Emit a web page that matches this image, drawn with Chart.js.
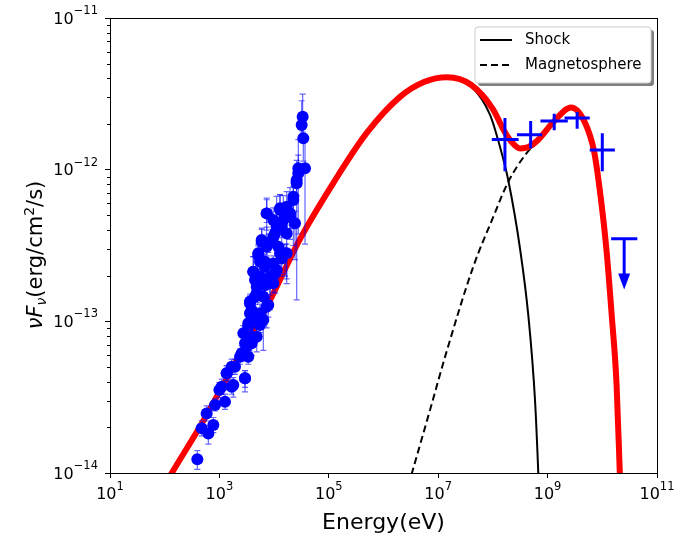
<!DOCTYPE html>
<html>
<head>
<meta charset="utf-8">
<script src="https://cdn.jsdelivr.net/npm/chart.js@4.4.1/dist/chart.umd.min.js"></script>
<style>
  html, body { margin: 0; padding: 0; background: #fff; }
  #sed { display: block; }
</style>
</head>
<body>
<canvas id="sed" width="677" height="536"></canvas>
<script>
// X-ray points: energy (eV), nuFnu (erg/cm2/s), error bars in dex
const xrayEnergy = [395, 474, 628, 775, 585, 832, 998, 1265, 1357, 1797, 1675, 2383, 2938, 3148, 3622, 2741, 3378,
    4475, 5521, 3890, 6350, 3630, 4800, 5930, 7310, 4475, 4170, 5521, 6820, 8410, 10380, 5150, 5930, 7310, 9680,
    12820, 11140, 14760, 7310, 12820, 16980, 19540, 22490, 24100, 15810, 25880, 27730, 36730, 34200, 31910, 33270,
    27670, 25880, 22440, 16980, 12820, 7330, 9670, 19540, 13770, 10380, 5930, 7830, 11940, 16980, 5140, 6820,
    9670, 13770, 11140, 4170, 5520, 8410, 4810, 6820, 9670, 4480, 6350, 3620, 7830, 3620, 5520, 3370, 5520,
    3370, 4810, 2940, 3890, 2560, 3370, 1930, 2940, 1360, 1100, 1680];
const xrayFlux = [1.23e-14, 1.97e-14, 1.82e-14, 2.07e-14, 2.47e-14, 2.81e-14, 3.52e-14, 2.95e-14, 4.54e-14, 3.80e-14,
    5.02e-14, 5.85e-14, 4.21e-14, 6.81e-14, 7.93e-14, 8.34e-14, 9.23e-14, 1.02e-13, 1.13e-13, 1.19e-13, 1.02e-13,
    1.35e-13, 1.53e-13, 1.78e-13, 1.25e-13, 1.87e-13, 2.12e-13, 2.47e-13, 2.29e-13, 1.78e-13, 2.07e-13, 2.81e-13,
    3.35e-13, 3.10e-13, 3.61e-13, 2.81e-13, 4.21e-13, 4.66e-13, 5.15e-13, 5.56e-13, 3.80e-13, 5.15e-13, 6.31e-13,
    4.43e-13, 2.81e-13, 8.54e-13, 1.02e-12, 1.02e-12, 1.61e-12, 1.97e-12, 2.23e-12,
    9.46e-13, 8.13e-13, 6.62e-13, 5.69e-13, 5.42e-13, 5.15e-13, 4.66e-13, 4.90e-13, 4.21e-13, 3.80e-13, 3.44e-13,
    3.27e-13, 3.10e-13, 2.81e-13, 2.74e-13, 2.47e-13, 2.41e-13, 2.60e-13, 2.18e-13, 2.12e-13, 1.97e-13, 1.97e-13,
    1.69e-13, 1.73e-13, 1.78e-13, 1.45e-13, 1.45e-13, 1.31e-13, 1.28e-13, 1.13e-13, 1.07e-13, 9.70e-14, 9.46e-14,
    8.34e-14, 7.92e-14, 7.16e-14, 7.16e-14, 6.15e-14, 5.85e-14, 5.02e-14, 4.21e-14, 4.54e-14, 3.71e-14, 3.71e-14];
const xrayErrDown = [0.066, 0.05, 0.07, 0.05, 0.05, 0.04, 0.05, 0.05, 0.05, 0.08, 0.05, 0.05, 0.09, 0.05, 0.05, 0.05,
    0.05, 0.05, 0.1, 0.05, 0.2, 0.05, 0.06, 0.06, 0.14, 0.06, 0.06, 0.06, 0.06, 0.17, 0.13, 0.06, 0.06, 0.06, 0.07,
    0.15, 0.1, 0.1, 0.11, 0.08, 0.3, 0.1, 0.3, 0.24, 0.15, 0.79, 0.12, 0.5, 0.15, 0.1, 0.1,
    0.4, 0.08, 0.1, 0.12, 0.06, 0.06, 0.06, 0.15, 0.12, 0.06, 0.05, 0.06, 0.08, 0.2, 0.05, 0.05,
    0.06, 0.1, 0.06, 0.05, 0.05, 0.12, 0.05, 0.05, 0.06, 0.05, 0.06, 0.05, 0.08, 0.05, 0.06, 0.05, 0.05,
    0.05, 0.1, 0.05, 0.08, 0.05, 0.05, 0.05, 0.06, 0.05, 0.05, 0.05];
const xrayErrUp = [0.057, 0.05, 0.05, 0.05, 0.05, 0.04, 0.05, 0.05, 0.05, 0.05, 0.05, 0.05, 0.05, 0.05, 0.05, 0.05,
    0.05, 0.05, 0.06, 0.05, 0.06, 0.05, 0.06, 0.06, 0.06, 0.06, 0.1, 0.06, 0.06, 0.06, 0.06, 0.06, 0.09, 0.13, 0.07,
    0.06, 0.2, 0.16, 0.1, 0.09, 0.08, 0.17, 0.09, 0.08, 0.06, 0.13, 0.19, 0.19, 0.14, 0.16, 0.15,
    0.12, 0.1, 0.1, 0.1, 0.1, 0.09, 0.08, 0.1, 0.08, 0.07, 0.07, 0.06, 0.06, 0.06, 0.06, 0.05,
    0.05, 0.05, 0.05, 0.1, 0.05, 0.05, 0.08, 0.05, 0.05, 0.05, 0.05, 0.05, 0.05, 0.05, 0.05, 0.05, 0.05,
    0.05, 0.05, 0.05, 0.05, 0.05, 0.05, 0.05, 0.05, 0.05, 0.05, 0.05];

// Fermi-LAT bins
const fermiEnergy = [1.66e8, 4.9e8, 1.32e9, 3.47e9, 1.0e10];
const fermiEnergyLow = [9.55e7, 2.75e8, 7.41e8, 2.04e9, 5.89e9];
const fermiEnergyHigh = [2.95e8, 7.94e8, 2.34e9, 5.89e9, 1.70e10];
const fermiFlux = [1.58e-12, 1.70e-12, 2.09e-12, 2.19e-12, 1.35e-12];
const fermiFluxLow = [9.77e-13, 1.38e-12, 1.82e-12, 1.86e-12, 9.77e-13];
const fermiFluxHigh = [2.19e-12, 2.09e-12, 2.34e-12, 2.40e-12, 1.74e-12];

// upper limit
const limitEnergy = [2.51e10];
const limitEnergyLow = [1.45e10];
const limitEnergyHigh = [4.37e10];
const limitFlux = [3.5e-13];
const limitArrowTo = [1.62e-13];

// model curves
const totalEnergy = [100, 135, 447, 1778, 7413, 29512, 1.20e5, 4.90e5, 2.0e6, 5.62e6, 1.45e7, 3.98e7, 1.0e8, 1.58e8,
    2.24e8, 3.16e8, 4.47e8, 6.46e8, 1.32e9, 2.69e9, 4.68e9, 7.08e9, 9.33e9, 1.20e10, 1.48e10, 1.82e10, 2.09e10, 2.29e10];
const totalFlux = [8.3e-15, 1.0e-14, 2.04e-14, 5.01e-14, 1.26e-13, 3.47e-13, 8.13e-13, 1.74e-12, 3.02e-12, 3.80e-12,
    4.07e-12, 3.63e-12, 2.51e-12, 1.82e-12, 1.51e-12, 1.38e-12, 1.41e-12, 1.55e-12, 2.09e-12, 2.57e-12, 2.09e-12,
    1.32e-12, 6.61e-13, 2.88e-13, 1.12e-13, 3.89e-14, 1.0e-14, 4.0e-15];

const shockEnergy = [100, 135, 447, 1778, 7413, 29512, 1.20e5, 4.90e5, 2.0e6, 5.62e6, 1.45e7, 3.98e7, 8.91e7, 1.35e8,
    1.91e8, 3.16e8, 4.47e8, 5.89e8, 6.76e8, 7.41e8];
const shockFlux = [8.3e-15, 1.0e-14, 2.04e-14, 5.01e-14, 1.26e-13, 3.47e-13, 8.13e-13, 1.74e-12, 3.02e-12, 3.80e-12,
    4.07e-12, 3.55e-12, 2.29e-12, 1.41e-12, 8.51e-13, 2.95e-13, 1.07e-13, 3.02e-14, 1.0e-14, 4.0e-15];

const magEnergy = [2.51e6, 3.31e6, 7.08e6, 1.45e7, 4.37e7, 1.02e8, 1.91e8, 4.17e8, 6.46e8, 1.32e9, 2.69e9, 4.68e9,
    7.08e9, 9.33e9, 1.20e10, 1.48e10, 1.82e10, 2.09e10, 2.29e10];
const magFlux = [7.1e-15, 1.0e-14, 2.60e-14, 6.46e-14, 2.29e-13, 4.90e-13, 8.32e-13, 1.29e-12, 1.51e-12, 2.04e-12,
    2.51e-12, 2.09e-12, 1.32e-12, 6.61e-13, 2.88e-13, 1.12e-13, 3.89e-14, 1.0e-14, 4.0e-15];

const xTicks = [1e1, 1e3, 1e5, 1e7, 1e9, 1e11];
const xTickExponents = ["1", "3", "5", "7", "9", "11"];
const yTicks = [1e-14, 1e-13, 1e-12, 1e-11];
const yTickExponents = ["\u221214", "\u221213", "\u221212", "\u221211"];
const legendLabels = ["Shock", "Magnetosphere"];

const FONT = "DejaVu Sans";
Chart.defaults.font.family = FONT;
Chart.defaults.font.size = 15;
Chart.defaults.color = "#000";

function pairs(xs, ys) {
    return xs.map((x, i) => ({ x: x, y: ys[i] }));
}

function roundRect(ctx, x, y, w, h, r) {
    ctx.beginPath();
    ctx.moveTo(x + r, y);
    ctx.lineTo(x + w - r, y);
    ctx.quadraticCurveTo(x + w, y, x + w, y + r);
    ctx.lineTo(x + w, y + h - r);
    ctx.quadraticCurveTo(x + w, y + h, x + w - r, y + h);
    ctx.lineTo(x + r, y + h);
    ctx.quadraticCurveTo(x, y + h, x, y + h - r);
    ctx.lineTo(x, y + r);
    ctx.quadraticCurveTo(x, y, x + r, y);
    ctx.closePath();
}

const BASE_FONT = "16px '" + FONT + "'";
const EXP_FONT = "11.5px '" + FONT + "'";

const sedExtras = {
    id: "sedExtras",
    beforeDatasetDraw(chart, args) {
        if (args.index !== 3) return;
        // x-ray error bars, drawn just below the markers
        const xs = chart.scales.x, ys = chart.scales.y, ctx = chart.ctx;
        ctx.save();
        ctx.strokeStyle = "rgba(0,0,255,0.6)";
        ctx.lineWidth = 1.2;
        xrayEnergy.forEach((e, i) => {
            const px = xs.getPixelForValue(e);
            const top = ys.getPixelForValue(xrayFlux[i] * Math.pow(10, xrayErrUp[i]));
            const bot = ys.getPixelForValue(xrayFlux[i] / Math.pow(10, xrayErrDown[i]));
            ctx.beginPath();
            ctx.moveTo(px, top); ctx.lineTo(px, bot);
            ctx.moveTo(px - 3, top); ctx.lineTo(px + 3, top);
            ctx.moveTo(px - 3, bot); ctx.lineTo(px + 3, bot);
            ctx.stroke();
        });
        ctx.restore();
    },
    afterDatasetsDraw(chart) {
        const xs = chart.scales.x, ys = chart.scales.y, ctx = chart.ctx;
        ctx.save();
        ctx.strokeStyle = "#0000ff";
        ctx.fillStyle = "#0000ff";
        ctx.lineWidth = 3;
        // Fermi crosses
        fermiEnergy.forEach((e, i) => {
            const px = xs.getPixelForValue(e);
            const py = ys.getPixelForValue(fermiFlux[i]);
            ctx.beginPath();
            ctx.moveTo(xs.getPixelForValue(fermiEnergyLow[i]), py);
            ctx.lineTo(xs.getPixelForValue(fermiEnergyHigh[i]), py);
            ctx.moveTo(px, ys.getPixelForValue(fermiFluxHigh[i]));
            ctx.lineTo(px, ys.getPixelForValue(fermiFluxLow[i]));
            ctx.stroke();
        });
        // upper limit with arrow
        limitEnergy.forEach((e, i) => {
            const px = xs.getPixelForValue(e);
            const py = ys.getPixelForValue(limitFlux[i]);
            const tip = ys.getPixelForValue(limitArrowTo[i]);
            ctx.beginPath();
            ctx.moveTo(xs.getPixelForValue(limitEnergyLow[i]), py);
            ctx.lineTo(xs.getPixelForValue(limitEnergyHigh[i]), py);
            ctx.moveTo(px, py);
            ctx.lineTo(px, tip - 12);
            ctx.stroke();
            ctx.beginPath();
            ctx.moveTo(px - 6, tip - 16);
            ctx.lineTo(px + 6, tip - 16);
            ctx.lineTo(px, tip);
            ctx.closePath();
            ctx.fill();
        });
        ctx.restore();
    },
    afterDraw(chart) {
        const ctx = chart.ctx, ca = chart.chartArea, xs = chart.scales.x, ys = chart.scales.y;
        ctx.save();
        // frame
        ctx.strokeStyle = "#000";
        ctx.lineWidth = 1;
        ctx.strokeRect(Math.round(ca.left) + 0.5, Math.round(ca.top) + 0.5,
            Math.round(ca.right - ca.left), Math.round(ca.bottom - ca.top));
        // minor y ticks
        ctx.beginPath();
        for (let d = -14; d < -11; d++) {
            for (let k = 2; k <= 9; k++) {
                const py = Math.round(ys.getPixelForValue(k * Math.pow(10, d))) + 0.5;
                ctx.moveTo(ca.left - 3, py);
                ctx.lineTo(ca.left, py);
            }
        }
        ctx.stroke();

        // tick labels with raised exponents
        ctx.fillStyle = "#000";
        ctx.textAlign = "left";
        ctx.textBaseline = "alphabetic";
        xTicks.forEach((v, i) => {
            ctx.font = BASE_FONT;
            const wb = ctx.measureText("10").width;
            ctx.font = EXP_FONT;
            const we = ctx.measureText(xTickExponents[i]).width;
            const x0 = xs.getPixelForValue(v) - (wb + we) / 2;
            ctx.font = BASE_FONT;
            ctx.fillText("10", x0, 499);
            ctx.font = EXP_FONT;
            ctx.fillText(xTickExponents[i], x0 + wb, 490);
        });
        yTicks.forEach((v, i) => {
            ctx.font = EXP_FONT;
            const we = ctx.measureText(yTickExponents[i]).width;
            ctx.font = BASE_FONT;
            const wb = ctx.measureText("10").width;
            const py = ys.getPixelForValue(v);
            const x0 = 98 - we - wb;
            ctx.fillText("10", x0, py + 5.5);
            ctx.font = EXP_FONT;
            ctx.fillText(yTickExponents[i], x0 + wb, py - 4);
        });

        // legend
        const lx = ca.right - 182, ly = ca.top + 9, lw = 176, lh = 56;
        ctx.fillStyle = "rgba(0,0,0,0.5)";
        roundRect(ctx, lx + 3, ly + 3, lw, lh, 3);
        ctx.fill();
        ctx.fillStyle = "#fff";
        roundRect(ctx, lx, ly, lw, lh, 3);
        ctx.fill();
        ctx.strokeStyle = "#cccccc";
        ctx.stroke();
        ctx.strokeStyle = "#000";
        ctx.lineWidth = 2;
        ctx.font = "15px '" + FONT + "'";
        ctx.fillStyle = "#000";
        ctx.textBaseline = "middle";
        ctx.textAlign = "left";
        legendLabels.forEach((label, i) => {
            const y = ly + 13 + i * 25;
            ctx.setLineDash(i === 1 ? [7, 4] : []);
            ctx.beginPath();
            ctx.moveTo(lx + 5, y);
            ctx.lineTo(lx + 37, y);
            ctx.stroke();
            ctx.fillText(label, lx + 50, y);
        });
        ctx.setLineDash([]);

        // x title
        ctx.textAlign = "center";
        ctx.textBaseline = "alphabetic";
        ctx.font = "22px '" + FONT + "'";
        ctx.fillText("Energy(eV)", (ca.left + ca.right) / 2, 529);

        // y title with sub/superscripts
        const pieces = [
            { t: "ν", f: "italic 21px '" + FONT + "'", dy: 0 },
            { t: "F", f: "italic 21px '" + FONT + "'", dy: 0 },
            { t: "ν", f: "italic 14px '" + FONT + "'", dy: 4 },
            { t: "(erg/cm", f: "21px '" + FONT + "'", dy: 0 },
            { t: "2", f: "14px '" + FONT + "'", dy: -8 },
            { t: "/s)", f: "21px '" + FONT + "'", dy: 0 }
        ];
        let total = 0;
        pieces.forEach(p => { ctx.font = p.f; p.w = ctx.measureText(p.t).width; total += p.w; });
        ctx.translate(42, 255);
        ctx.rotate(-Math.PI / 2);
        ctx.textAlign = "left";
        let cx = -total / 2;
        pieces.forEach(p => {
            ctx.font = p.f;
            ctx.fillText(p.t, cx, p.dy);
            cx += p.w;
        });
        ctx.restore();
    }
};

const ctx = document.getElementById("sed").getContext("2d");
new Chart(ctx, {
    type: "scatter",
    data: {
        datasets: [
            {
                label: "Fermi",
                data: pairs(fermiEnergy, fermiFlux),
                pointRadius: 0,
                order: 0
            },
            {
                label: "Total",
                data: pairs(totalEnergy, totalFlux),
                showLine: true,
                borderColor: "#ff0000",
                borderWidth: 6,
                pointRadius: 0,
                cubicInterpolationMode: "monotone",
                order: 2
            },
            {
                label: legendLabels[0],
                data: pairs(shockEnergy, shockFlux),
                showLine: true,
                borderColor: "#000",
                borderWidth: 2,
                pointRadius: 0,
                cubicInterpolationMode: "monotone",
                order: 3
            },
            {
                label: "X-ray",
                data: pairs(xrayEnergy, xrayFlux),
                pointRadius: 6,
                pointBorderWidth: 0,
                backgroundColor: "#0000ff",
                borderColor: "#0000ff",
                order: 1
            },
            {
                label: legendLabels[1],
                data: pairs(magEnergy, magFlux),
                showLine: true,
                borderColor: "#000",
                borderWidth: 2,
                borderDash: [7, 4],
                pointRadius: 0,
                cubicInterpolationMode: "monotone",
                order: 4
            }
        ]
    },
    options: {
        responsive: false,
        animation: false,
        devicePixelRatio: 1,
        layout: { padding: { left: 0, right: 20, top: 18, bottom: 0 } },
        plugins: {
            legend: { display: false },
            tooltip: { enabled: false }
        },
        scales: {
            x: {
                type: "logarithmic",
                min: 1e1,
                max: 1e11,
                afterBuildTicks: scale => { scale.ticks = xTicks.map(v => ({ value: v })); },
                afterFit: scale => { scale.height = 63; },
                ticks: { display: false, autoSkip: false },
                grid: { drawOnChartArea: false, drawTicks: true, tickLength: 5, color: "#000" },
                border: { display: true, color: "#000", width: 1 }
            },
            y: {
                type: "logarithmic",
                min: 1e-14,
                max: 1e-11,
                afterBuildTicks: scale => { scale.ticks = yTicks.map(v => ({ value: v })); },
                afterFit: scale => { scale.width = 110; },
                ticks: { display: false, autoSkip: false },
                grid: { drawOnChartArea: false, drawTicks: true, tickLength: 5, color: "#000" },
                border: { display: true, color: "#000", width: 1 }
            }
        }
    },
    plugins: [sedExtras]
});
</script>
</body>
</html>
